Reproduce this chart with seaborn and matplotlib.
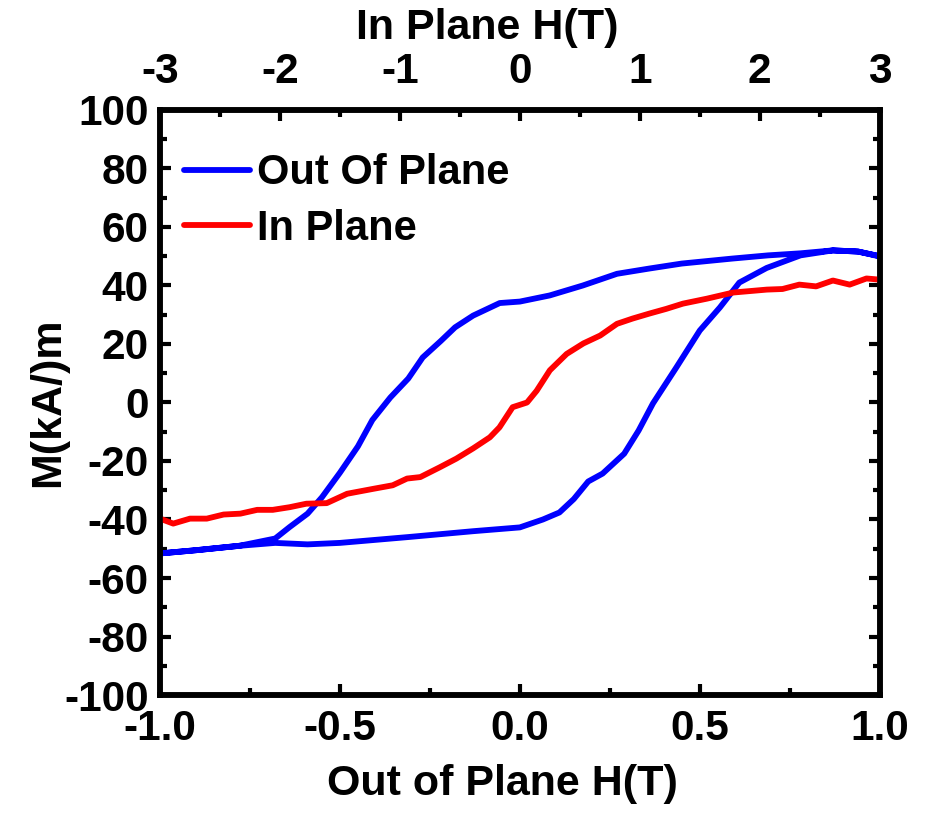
import matplotlib
matplotlib.use("Agg")
import matplotlib.pyplot as plt
import seaborn as sns
import pandas as pd
from matplotlib.ticker import MultipleLocator

# Out of plane loop (bottom axis, H in T)
oop_up_h = [-1.0, -0.9, -0.78, -0.68, -0.59, -0.5, -0.31, -0.13, 0.0, 0.064, 0.11, 0.15,
            0.19, 0.23, 0.29, 0.33, 0.37, 0.435, 0.5, 0.556, 0.61, 0.686, 0.78, 0.87, 0.94, 1.0]
oop_up_m = [-51.6, -50.5, -49, -48, -48.5, -48, -46, -44, -42.7, -40, -37.6, -33,
            -27, -24.3, -17.5, -9.6, -0.3, 12, 24.6, 32.5, 41, 46, 50.3, 52, 51.6, 50]
oop_down_h = [1.0, 0.94, 0.87, 0.78, 0.69, 0.59, 0.45, 0.36, 0.27, 0.175, 0.083, 0.0, -0.056,
              -0.13, -0.18, -0.22, -0.27, -0.31, -0.36, -0.41, -0.45, -0.5, -0.55, -0.59,
              -0.64, -0.68, -0.78, -0.9, -1.0]
oop_down_m = [50, 51.6, 52, 51, 50.3, 49.2, 47.5, 45.8, 44, 40, 36.6, 34.5, 34,
              29.7, 25.7, 21, 15.4, 8.2, 1.7, -6, -15, -24, -32.4, -38,
              -42.6, -46.5, -49, -50.5, -51.6]

# In plane curve (top axis, H in T)
ip_h = [-3.0, -2.89, -2.75, -2.61, -2.47, -2.33, -2.19, -2.06, -1.92, -1.78, -1.61, -1.44,
        -1.22, -1.06, -0.94, -0.83, -0.67, -0.53, -0.39, -0.25, -0.17, -0.06, 0.06, 0.14,
        0.25, 0.39, 0.53, 0.67, 0.81, 0.94, 1.08, 1.22, 1.36, 1.56, 1.78, 2.06, 2.19,
        2.33, 2.47, 2.61, 2.75, 2.89, 3.0]
ip_m = [-39.7, -41.4, -39.7, -39.7, -38.3, -38, -36.7, -36.7, -35.8, -34.6, -34.4, -31.2,
        -29.5, -28.3, -26, -25.5, -22.2, -19.2, -15.7, -11.9, -8.5, -1.6, 0, 4,
        11, 16.6, 20.2, 22.9, 26.9, 28.7, 30.4, 32, 33.8, 35.5, 37.6, 38.6, 38.8,
        40.3, 39.7, 41.7, 40.3, 42.4, 42]

y_ticks = list(range(-100, 101, 20))
bottom_ticks = [-1.0, -0.5, 0.0, 0.5, 1.0]
top_ticks = [-3, -2, -1, 0, 1, 2, 3]

sns.set_style("white")
plt.rcParams['font.family'] = ['Liberation Sans', 'DejaVu Sans']
plt.rcParams['font.weight'] = 'bold'
plt.rcParams['axes.labelweight'] = 'bold'
plt.rcParams['axes.unicode_minus'] = False
plt.rcParams['text.color'] = 'black'
plt.rcParams['axes.labelcolor'] = 'black'
plt.rcParams['xtick.color'] = 'black'
plt.rcParams['ytick.color'] = 'black'

oop = pd.DataFrame({"H": oop_up_h + oop_down_h, "M": oop_up_m + oop_down_m})
ip = pd.DataFrame({"H": ip_h, "M": ip_m})

fig = plt.figure(figsize=(9.25, 8.19), dpi=100)
ax = fig.add_axes([0.173, 0.1514, 0.778, 0.7143])
ax2 = ax.twiny()

sns.lineplot(data=oop, x="H", y="M", sort=False, ax=ax, color="#0000FF", lw=4.2,
             label="Out Of Plane", legend=False, estimator=None,
             solid_joinstyle='round', solid_capstyle='round')
sns.lineplot(data=ip, x="H", y="M", sort=False, ax=ax2, color="#FF0000", lw=4.2,
             label="In Plane", legend=False, estimator=None,
             solid_joinstyle='round', solid_capstyle='round')

ax.set_xlim(-1, 1)
ax.set_ylim(-100, 100)
ax2.set_xlim(-3, 3)

ax.set_xticks(bottom_ticks)
ax.set_xticklabels([f"{t:.1f}" for t in bottom_ticks])
ax.xaxis.set_minor_locator(MultipleLocator(0.25))
ax.set_yticks(y_ticks)
ax.set_yticklabels([str(t) for t in y_ticks])
ax.yaxis.set_minor_locator(MultipleLocator(10))
ax2.set_xticks(top_ticks)
ax2.set_xticklabels([str(t) for t in top_ticks])
ax2.xaxis.set_minor_locator(MultipleLocator(0.5))

fs_tick = 30.5
fs_lab = 31
ax.tick_params(axis='both', which='major', direction='in', length=8, width=3,
               labelsize=fs_tick, pad=8, colors='black')
ax.tick_params(axis='x', which='major', pad=10)
ax.tick_params(axis='both', which='minor', direction='in', length=5, width=3)
ax.tick_params(axis='y', which='both', left=True, right=True)
ax.tick_params(axis='x', which='both', bottom=True, top=False)
ax2.tick_params(axis='x', which='major', direction='in', length=8, width=3,
                labelsize=fs_tick, pad=13, colors='black')
ax2.tick_params(axis='x', which='minor', direction='in', length=5, width=3)
for a in (ax, ax2):
    for lab in a.get_xticklabels() + a.get_yticklabels():
        lab.set_fontweight('bold')
    for s in a.spines.values():
        s.set_linewidth(4)
        s.set_color('black')

ax.set_xlabel("Out of Plane H(T)", fontsize=fs_lab, fontweight='bold', labelpad=11)
ax.set_ylabel("M(kA/)m", fontsize=fs_lab, fontweight='bold', labelpad=-3)
ax2.set_xlabel("In Plane H(T)", fontsize=fs_lab, fontweight='bold', labelpad=9)
ax.xaxis.label.set_x(0.476)
ax2.xaxis.label.set_x(0.455)

h1, l1 = ax.get_legend_handles_labels()
h2, l2 = ax2.get_legend_handles_labels()
leg = ax2.legend(h1 + h2, l1 + l2, loc='upper left', frameon=False,
                 prop={'size': 30, 'weight': 'bold'}, handlelength=1.6,
                 handletextpad=0.15, labelspacing=0.37, borderpad=0,
                 bbox_to_anchor=(0.033, 0.926), borderaxespad=0)

fig.savefig("out.png", dpi=100)
